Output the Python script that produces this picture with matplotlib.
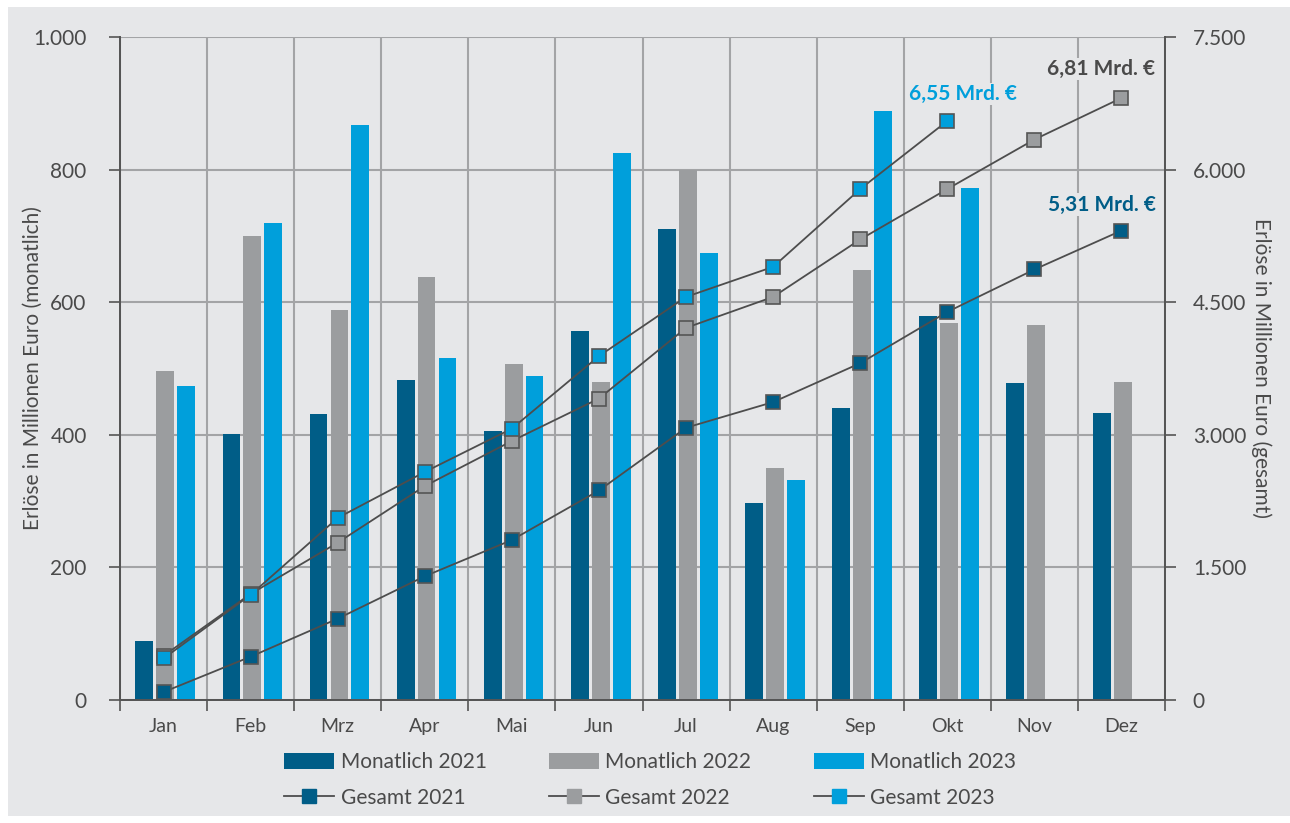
import numpy as np
import matplotlib
matplotlib.use('Agg')
import matplotlib.pyplot as plt
from matplotlib.patches import Rectangle
from matplotlib.lines import Line2D
from matplotlib.ticker import FuncFormatter

plt.rcParams['font.family'] = ['Lato', 'DejaVu Sans']

# Daten (Millionen Euro)
monate = ['Jan', 'Feb', 'Mrz', 'Apr', 'Mai', 'Jun', 'Jul', 'Aug', 'Sep', 'Okt', 'Nov', 'Dez']
monatlich_2021 = [89, 401, 431, 482, 406, 557, 710, 297, 440, 579, 478, 433]
monatlich_2022 = [496, 700, 588, 638, 507, 480, 799, 350, 649, 568, 566, 480]
monatlich_2023 = [474, 719, 867, 516, 489, 825, 674, 332, 888, 772]
gesamt_2021 = [90, 490, 920, 1400, 1810, 2370, 3080, 3370, 3810, 4390, 4870, 5310]
gesamt_2022 = [500, 1200, 1780, 2420, 2930, 3410, 4210, 4560, 5210, 5780, 6340, 6810]
gesamt_2023 = [470, 1190, 2060, 2580, 3070, 3890, 4560, 4900, 5780, 6550]
endwerte = ['5,31 Mrd. €', '6,81 Mrd. €', '6,55 Mrd. €']

# Farben
bg = '#e6e7e9'
c21 = '#005d87'
c22 = '#9b9d9f'
c23 = '#009fdb'
txt = '#4a4a4a'
grid = '#a3a4a6'
axc = '#555555'

fig = plt.figure(figsize=(12.9, 8.23), dpi=100, facecolor='white')
fig.patches.append(Rectangle((8 / 1290, 7 / 823), 1 - 8 / 1290, 809 / 823,
                             transform=fig.transFigure, facecolor=bg,
                             edgecolor='none', zorder=-10))

ax = fig.add_axes([120 / 1290, 1 - 700 / 823, 1045 / 1290, 663 / 823])
ax.set_facecolor(bg)
ax2 = ax.twinx()

x = np.arange(len(monate))
w = 0.205
ax.bar(x - 0.22, monatlich_2021, w, color=c21, zorder=2)
ax.bar(x + 0.02, monatlich_2022, w, color=c22, zorder=2)
ax.bar(x[:len(monatlich_2023)] + 0.26, monatlich_2023, w, color=c23, zorder=2)

ms = 10.5
for werte, farbe in [(gesamt_2021, c21), (gesamt_2022, c22), (gesamt_2023, c23)]:
    ax2.plot(x[:len(werte)], werte, color='#4d4d4d', lw=1.3, marker='s',
             ms=ms, mfc=farbe, mec='#555555', mew=1.2, zorder=3)

# Beschriftungen der Endwerte
box = dict(facecolor=bg, edgecolor='none', pad=1)
ax2.annotate(endwerte[2], xy=(9, gesamt_2023[-1]), xytext=(16, 17),
             textcoords='offset pixels', ha='center', va='bottom',
             fontsize=15, fontweight='bold', color=c23, bbox=box)
ax2.annotate(endwerte[1], xy=(11, gesamt_2022[-1]), xytext=(34, 19),
             textcoords='offset pixels', ha='right', va='bottom',
             fontsize=15, fontweight='bold', color=txt, bbox=box)
ax2.annotate(endwerte[0], xy=(11, gesamt_2021[-1]), xytext=(34, 16),
             textcoords='offset pixels', ha='right', va='bottom',
             fontsize=15, fontweight='bold', color=c21, bbox=box)

# Achsen
ax.set_xlim(-0.5, 11.5)
ax.set_ylim(0, 1000)
ax2.set_ylim(0, 7500)
ax.set_yticks(range(0, 1001, 200))
ax2.set_yticks(range(0, 7501, 1500))
fmt = FuncFormatter(lambda v, p: f"{v:,.0f}".replace(',', '.'))
ax.yaxis.set_major_formatter(fmt)
ax2.yaxis.set_major_formatter(fmt)

ax.set_xticks(np.arange(-0.5, 12, 1))
ax.set_xticklabels([])
ax.set_xticks(x, minor=True)
ax.set_xticklabels(monate, minor=True)
ax.tick_params(axis='x', which='major', length=8, width=1.2, color=axc)
ax.tick_params(axis='x', which='minor', length=0, pad=13, labelsize=14, labelcolor=txt)
ax.tick_params(axis='y', length=8, width=1.2, color=axc, pad=16, labelsize=15, labelcolor=txt)
ax2.tick_params(axis='y', length=8, width=1.2, color=axc, pad=12, labelsize=15, labelcolor=txt)

ax.grid(True, which='major', color=grid, lw=1.5)
ax.set_axisbelow(True)

for a in (ax, ax2):
    a.spines['top'].set_visible(False)
    for s in ('left', 'right', 'bottom'):
        a.spines[s].set_color(axc)
        a.spines[s].set_linewidth(1.3)

ax.set_ylabel('Erlöse in Millionen Euro (monatlich)', fontsize=15, color=txt, va='center')
ax.yaxis.set_label_coords(-0.083, 0.5)
ax2.set_ylabel('Erlöse in Millionen Euro (gesamt)', fontsize=15, color=txt,
               rotation=-90, va='center')
ax2.yaxis.set_label_coords(1.0925, 0.5)

# Legende
handles = [
    Rectangle((0, 0), 1, 1, facecolor=c21, edgecolor='none'),
    Line2D([], [], color='#4d4d4d', lw=1.3, marker='s', ms=ms, mfc=c21, mec=c21),
    Rectangle((0, 0), 1, 1, facecolor=c22, edgecolor='none'),
    Line2D([], [], color='#4d4d4d', lw=1.3, marker='s', ms=ms, mfc=c22, mec=c22),
    Rectangle((0, 0), 1, 1, facecolor=c23, edgecolor='none'),
    Line2D([], [], color='#4d4d4d', lw=1.3, marker='s', ms=ms, mfc=c23, mec=c23),
]
labels = ['Monatlich 2021', 'Gesamt 2021', 'Monatlich 2022', 'Gesamt 2022',
          'Monatlich 2023', 'Gesamt 2023']
leg = fig.legend(handles, labels, ncol=3, loc='center', bbox_to_anchor=(0.504, 0.052),
                 frameon=False, fontsize=15, handlelength=2.4, handleheight=0.85,
                 handletextpad=0.3, columnspacing=3.0, labelspacing=0.75)
for t in leg.get_texts():
    t.set_color(txt)

fig.savefig('out.png', dpi=100, facecolor='white')
